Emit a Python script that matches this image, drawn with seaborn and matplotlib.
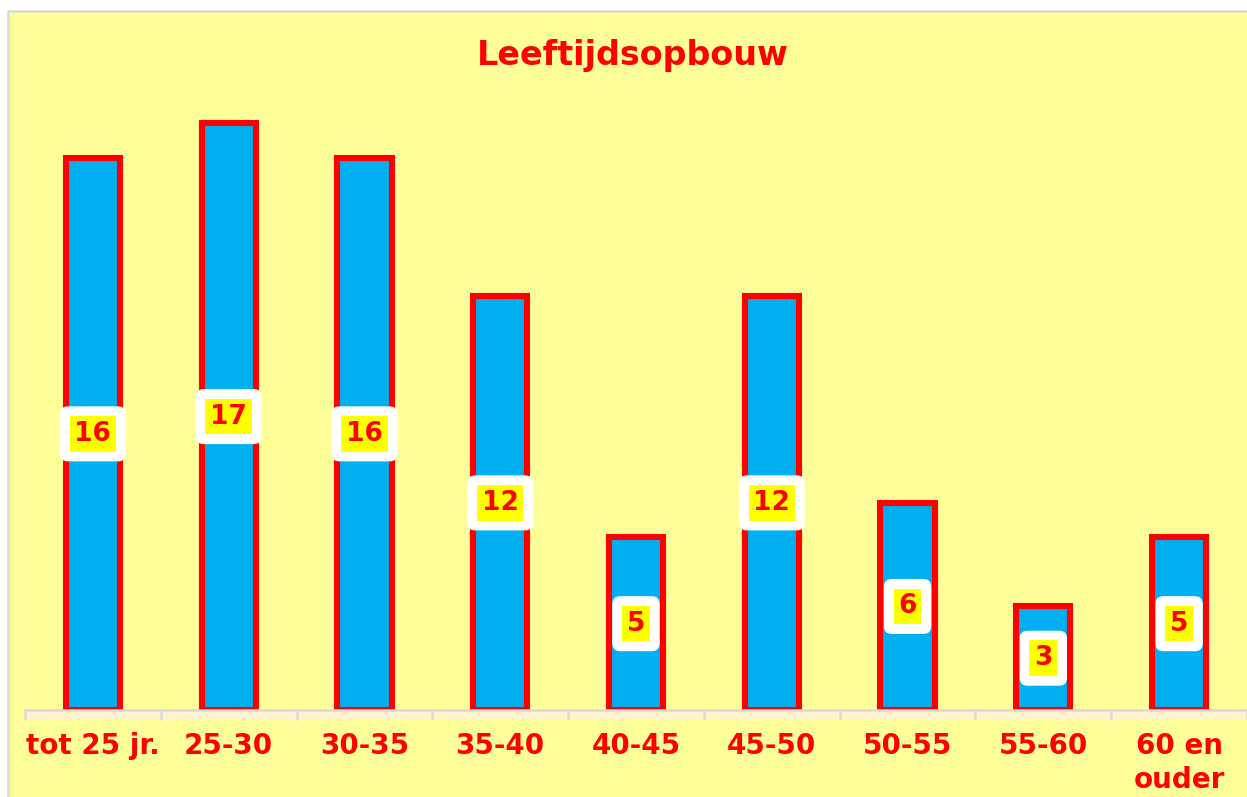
import matplotlib.pyplot as plt
import seaborn as sns
from matplotlib.patches import Rectangle

categories = ["tot 25 jr.", "25-30", "30-35", "35-40", "40-45", "45-50", "50-55", "55-60", "60 en\nouder"]
counts = [16, 17, 16, 12, 5, 12, 6, 3, 5]

YELLOW_BG = "#FFFF99"
BLUE = "#00B0F0"
RED = "#FF0000"
GRID_GREY = "#D9D9D9"

sns.set_theme(style="white")
plt.rcParams['font.family'] = ['DejaVu Sans']

fig = plt.figure(figsize=(12.47, 7.97), dpi=100, facecolor="white")

# yellow chart area with thin grey border (right/bottom run off the picture)
fig.patches.append(Rectangle((8 / 1247, -0.05), 1.2, 1 - 11 / 797 + 0.05,
                             transform=fig.transFigure, facecolor=YELLOW_BG,
                             edgecolor=GRID_GREY, linewidth=1.8, zorder=-5))

ax = fig.add_axes([25 / 1247, 87 / 797, 1222 / 1247, 680 / 797])
ax.set_facecolor("none")
ax.set_zorder(2)

sns.barplot(x=categories, y=counts, order=categories, width=0.4, color=BLUE,
            saturation=1, edgecolor=RED, linewidth=4.4, ax=ax)

ax.set_xlim(-0.5, 8.42)
ax.set_ylim(0, 19.7)
ax.set_xlabel("")
ax.set_ylabel("")
ax.set_yticks([])

for side in ["top", "right"]:
    ax.spines[side].set_visible(False)
ax.spines["left"].set_color("#FFF6C8")
ax.spines["left"].set_linewidth(1.0)
ax.spines["bottom"].set_color(GRID_GREY)
ax.spines["bottom"].set_linewidth(1.8)

# cream band under the axis line
ax.add_patch(Rectangle((-0.5, -0.0145), 9.5, 0.0145, transform=ax.get_xaxis_transform(),
                       facecolor="#FFF2CC", edgecolor="none", clip_on=False, zorder=0))

ax.set_xticks(range(len(categories)))
ax.set_xticklabels(categories, color=RED, fontweight="bold", fontsize=20, linespacing=1.25)
ax.set_xticks([i - 0.5 for i in range(len(categories) + 1)], minor=True)
ax.tick_params(axis="x", which="major", length=0, pad=16)
ax.tick_params(axis="x", which="minor", length=7, width=1.8, color=GRID_GREY, bottom=True)

# value labels: white rounded box with a yellow box inside
for i, v in enumerate(counts):
    ax.text(i, v / 2, str(v), ha="center", va="center", fontsize=19, fontweight="bold",
            color=RED, zorder=5,
            bbox=dict(boxstyle="round,pad=0.55,rounding_size=0.3", facecolor="white", edgecolor="none"))
    ax.text(i, v / 2, str(v), ha="center", va="center", fontsize=19, fontweight="bold",
            color=RED, zorder=6,
            bbox=dict(boxstyle="square,pad=0.18", facecolor="#FFFF00", edgecolor="none"))

fig.text(633 / 1247, 1 - 55 / 797, "Leeftijdsopbouw", ha="center", va="center",
         fontsize=24, fontweight="bold", color=RED)

fig.savefig("out.png", dpi=100, facecolor=fig.get_facecolor())
